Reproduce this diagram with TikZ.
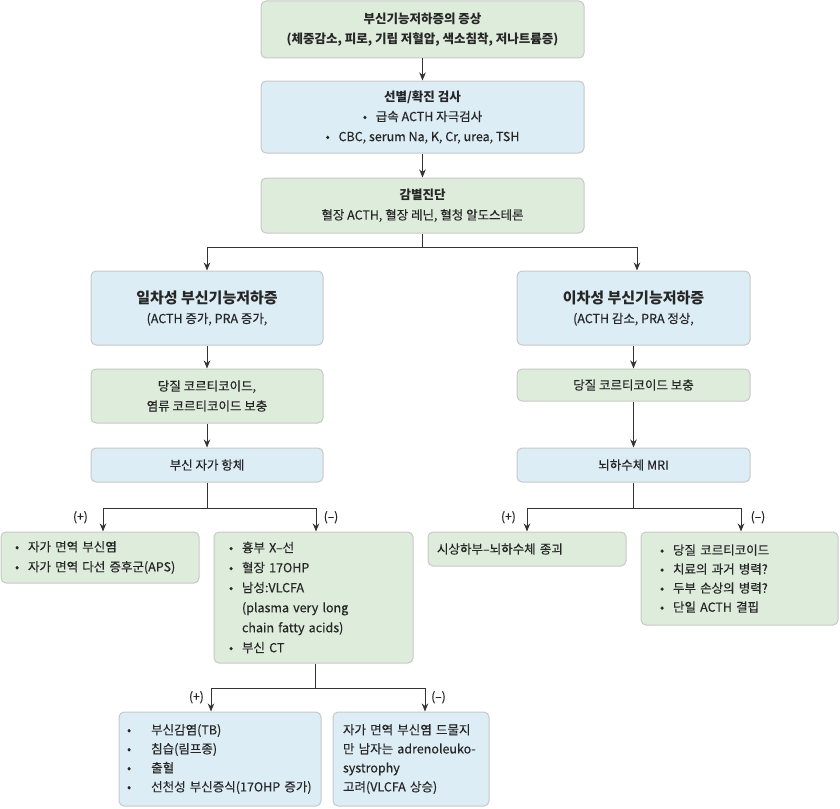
\documentclass[tikz,border=0pt]{standalone}
\usepackage{fontspec}
\setmainfont{Noto Sans CJK KR}[UprightFeatures={FakeBold=0.3}]
\usetikzlibrary{arrows.meta,positioning,calc}

\definecolor{boxgreen}{HTML}{DEECDC}
\definecolor{boxblue}{HTML}{DCEDF5}
\definecolor{boxline}{HTML}{C8C8C8}
\definecolor{linkgray}{HTML}{333333}
\newcommand{\bul}[1][13pt]{\makebox[#1][l]{•}}

\tikzset{
  box/.style={draw=boxline, line width=1pt, rounded corners=5pt, inner ysep=0pt,
    text=black!85, font=\fontsize{12.5}{20}\selectfont},
  greenbox/.style={box, fill=boxgreen},
  bluebox/.style={box, fill=boxblue},
  lnk/.style={draw=linkgray, line width=1pt},
  arr/.style={lnk, -{Stealth[length=8pt,width=6.5pt,inset=2.5pt]}},
  sign/.style={font=\fontsize{12}{14}\selectfont, inner sep=0pt, text=black!85}
}

\begin{document}
\begin{tikzpicture}[x=1pt,y=-1pt]
  \useasboundingbox (0,0) rectangle (840,808);
  % tronc commun
  \node[greenbox, minimum width=323pt, minimum height=57pt, align=center] (symp) at (422.5,29.5)
    {\textbf{부신기능저하증의 증상}\\ \textbf{(체중감소, 피로, 기립 저혈압, 색소침착, 저나트륨증)}};
  \node[bluebox, minimum width=323pt, minimum height=72pt, align=center] (screen) at (422.5,117)
    {\textbf{선별/확진 검사}\\ \bul 급속 ACTH 자극검사\\ \bul CBC, serum Na, K, Cr, urea, TSH};
  \node[greenbox, minimum width=323pt, minimum height=55pt, align=center] (diff) at (422.5,205.5)
    {\textbf{감별진단}\\ 혈장 ACTH, 혈장 레닌, 혈청 알도스테론};
  % primaire
  \node[bluebox, minimum width=232pt, minimum height=74pt, align=center] (prim) at (207,308)
    {{\fontsize{15}{24}\selectfont\textbf{일차성 부신기능저하증}}\\ (ACTH 증가, PRA 증가,};
  \node[greenbox, minimum width=232pt, minimum height=54pt, align=center] (pgluco) at (207,396)
    {당질 코르티코이드,\\ 염류 코르티코이드 보충};
  \node[bluebox, minimum width=232pt, minimum height=34pt] (pab) at (207,465) {부신 자가 항체};
  \node[greenbox, text width=170pt, inner xsep=14pt, minimum height=51pt, align=left] (ppos) at (100,557.5)
    {\bul 자가 면역 부신염\\ \bul 자가 면역 다선 증후군(APS)};
  \node[greenbox, text width=169pt, inner xsep=15pt, minimum height=131pt, align=left] (pneg) at (313.5,597.5)
    {\bul 흉부 X–선\\ \bul 혈장 17OHP\\ \bul 남성:VLCFA\\ \hspace*{13pt}(plasma very long\\
     \hspace*{13pt}chain fatty acids)\\ \bul 부신 CT};
  \node[bluebox, text width=186pt, inner xsep=8pt, minimum height=94pt, align=left,
    font=\fontsize{12.5}{19}\selectfont] (bpos) at (220,759)
    {\bul[20pt] 부신감염(TB)\\ \bul[20pt] 침습(림프종)\\ \bul[20pt] 출혈\\ \bul[20pt] 선천성 부신증식(17OHP 증가)};
  \node[bluebox, text width=136pt, inner xsep=10pt, minimum height=94pt, align=left,
    font=\fontsize{12.5}{19}\selectfont] (bneg) at (411,759)
    {자가 면역 부신염 드물지\\ 만 남자는 adrenoleuko-\\ systrophy\\ 고려(VLCFA 상승)};
  % secondaire
  \node[bluebox, minimum width=233pt, minimum height=74pt, align=center] (sec) at (633.5,308)
    {{\fontsize{15}{24}\selectfont\textbf{이차성 부신기능저하증}}\\ (ACTH 감소, PRA 정상,};
  \node[greenbox, minimum width=233pt, minimum height=32pt] (sgluco) at (633.5,385) {당질 코르티코이드 보충};
  \node[bluebox, minimum width=233pt, minimum height=34pt] (smri) at (633.5,465) {뇌하수체 MRI};
  \node[greenbox, text width=180pt, inner xsep=9pt, minimum height=34pt, align=left] (spos) at (527,549)
    {시상하부–뇌하수체 종괴};
  \node[greenbox, text width=159pt, inner xsep=19pt, minimum height=93pt, align=left,
    font=\fontsize{12.5}{19}\selectfont] (sneg) at (739.5,578.5)
    {\bul 당질 코르티코이드\\ \bul 치료의 과거 병력?\\ \bul 두부 손상의 병력?\\ \bul 단일 ACTH 결핍};

  % liaisons
  \draw[arr] (symp) -- (screen);
  \draw[arr] (screen) -- (diff);
  \coordinate (split1) at ($(diff.south)+(0,14)$);
  \draw[lnk] (diff.south) -- (split1);
  \draw[arr] (split1) -| (prim.north);
  \draw[arr] (split1) -| ([xshift=3.5pt]sec.north);
  \draw[arr] (prim) -- (pgluco);
  \draw[arr] (pgluco) -- (pab);
  \draw[arr] (sec) -- (sgluco);
  \draw[arr] (sgluco) -- (smri);

  \coordinate (split2) at ($(pab.south)+(0,26)$);
  \draw[lnk] (pab.south) -- (split2);
  \draw[arr] (split2) -| ([xshift=3pt]ppos.north);
  \draw[arr] (split2) -| ([xshift=2.5pt]pneg.north);
  \node[sign, above left=8pt and 12pt of ppos.north] (ppsign) {(+)};
  \node[sign, above right=8pt and 10pt of pneg.north] (pnsign) {(–)};

  \coordinate (split3) at ($(smri.south)+(0,26)$);
  \draw[lnk] (smri.south) -- (split3);
  \draw[arr] (split3) -| (spos.north);
  \draw[arr] (split3) -| ([xshift=1.5pt]sneg.north);
  \node[sign, above left=8pt and 11pt of spos.north] (spsign) {(+)};
  \node[sign, above right=8pt and 11pt of sneg.north] (snsign) {(–)};

  \coordinate (split4) at ($([xshift=1.5pt]pneg.south)+(0,25)$);
  \draw[lnk] ([xshift=1.5pt]pneg.south) -- (split4);
  \draw[arr] (split4) -| ([xshift=-9pt]bpos.north);
  \draw[arr] (split4) -| ([xshift=14pt]bneg.north);
  \node[sign, above left=8pt and 16pt of bpos.north] (bpsign) {(+)};
  \node[sign, above right=8pt and 20pt of bneg.north] (bnsign) {(–)};
\end{tikzpicture}
\end{document}
